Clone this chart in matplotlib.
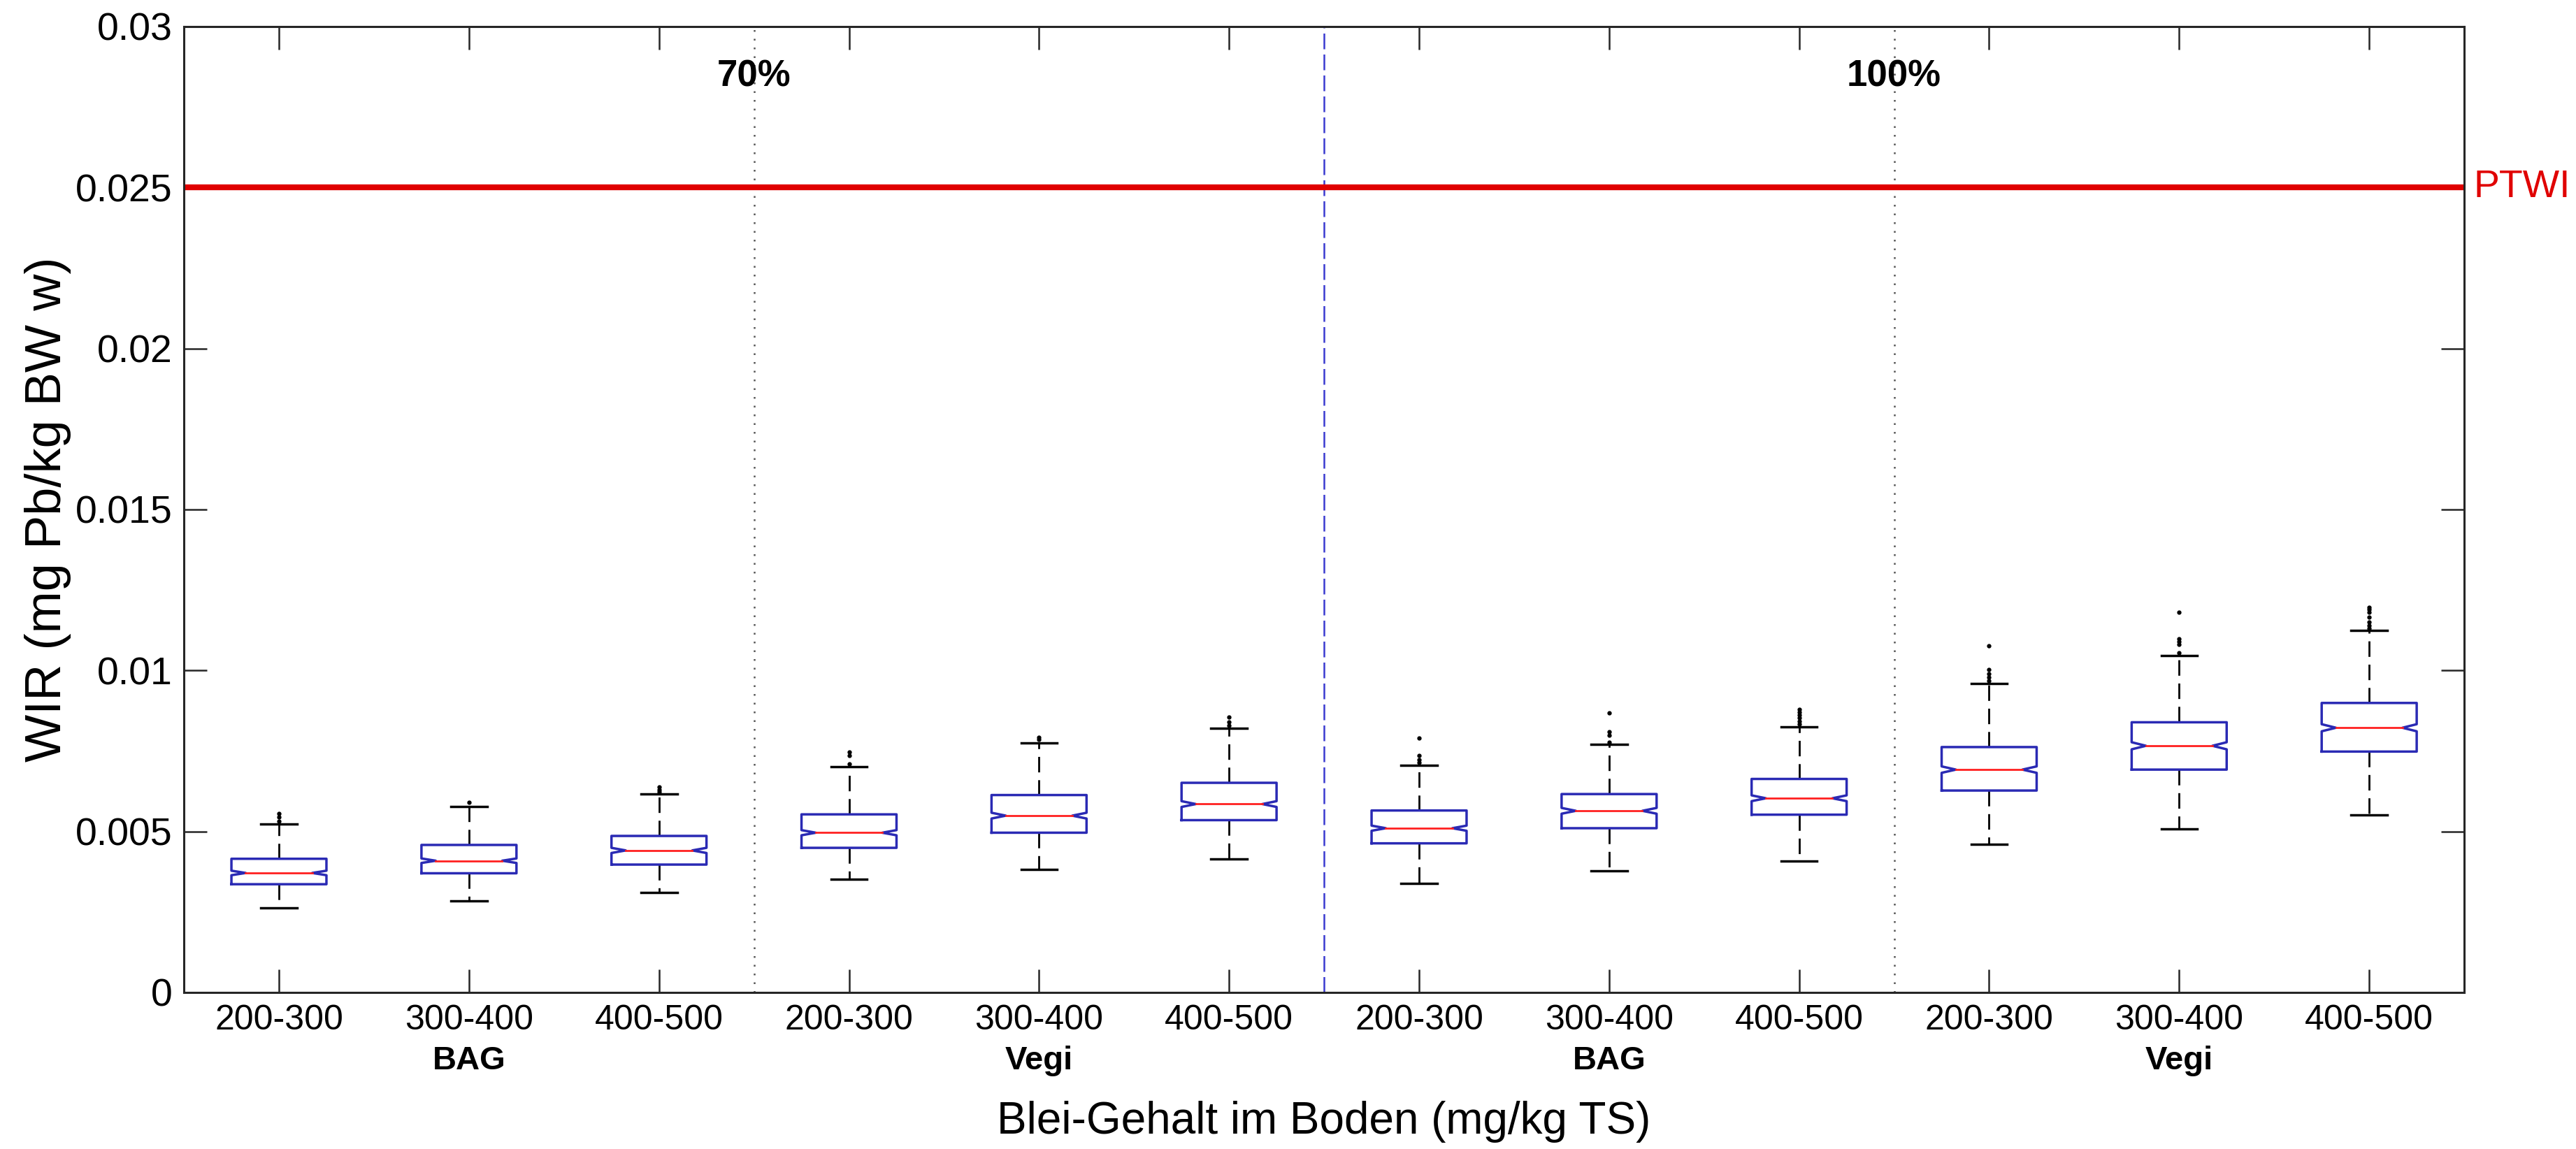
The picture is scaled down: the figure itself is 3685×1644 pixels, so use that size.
"""Notched box plots of weekly Pb intake (WIR) by soil lead class, diet and scenario."""

import matplotlib
matplotlib.use("Agg")
import matplotlib.pyplot as plt
import numpy as np

FONT = ["Liberation Sans", "DejaVu Sans"]

CLASSES = ["200-300", "300-400", "400-500"] * 4
GROUPS = ["BAG", "Vegi", "BAG", "Vegi"]
SCENARIOS = ["70%", "100%"]

WHISLO = [0.00263, 0.00285, 0.00311, 0.00351, 0.00381, 0.00415,
          0.00338, 0.00377, 0.00407, 0.00460, 0.00507, 0.00551]
Q1 = [0.00336, 0.00370, 0.00397, 0.00449, 0.00496, 0.00535,
      0.00463, 0.00510, 0.00552, 0.00627, 0.00692, 0.00748]
MED = [0.00371, 0.00409, 0.00441, 0.00496, 0.00549, 0.00585,
       0.00510, 0.00564, 0.00603, 0.00692, 0.00766, 0.00822]
Q3 = [0.00415, 0.00458, 0.00486, 0.00553, 0.00613, 0.00651,
      0.00565, 0.00616, 0.00663, 0.00762, 0.00839, 0.00899]
WHISHI = [0.00522, 0.00578, 0.00616, 0.00701, 0.00774, 0.00821,
          0.00706, 0.00770, 0.00825, 0.00960, 0.01046, 0.01124]
NOTCH = [0.00007, 0.00007, 0.00008, 0.00008, 0.00009, 0.00009,
         0.00008, 0.00009, 0.00009, 0.00010, 0.00011, 0.00011]
FLIERS = [
    [0.00531, 0.00545, 0.00556],
    [0.00590],
    [0.00622, 0.00630, 0.00638],
    [0.00710, 0.00735, 0.00746],
    [0.00785, 0.00792],
    [0.00830, 0.00840, 0.00855],
    [0.00714, 0.00722, 0.00735, 0.00790],
    [0.00776, 0.00798, 0.00810, 0.00868],
    [0.00834, 0.00843, 0.00852, 0.00862, 0.00870, 0.00879],
    [0.00968, 0.00978, 0.00990, 0.01003, 0.01077],
    [0.01054, 0.01081, 0.01090, 0.01099, 0.01180],
    [0.01130, 0.01140, 0.01150, 0.01165, 0.01180, 0.01190, 0.01195],
]
PTWI = 0.025
YTICKS = [0, 0.005, 0.01, 0.015, 0.02, 0.025, 0.03]
YTICKLABELS = ["0", "0.005", "0.01", "0.015", "0.02", "0.025", "0.03"]

BLUE = "#2a2ab4"
WIDTH = 0.5
NOTCH_DEPTH = 0.075


def main():
    fig = plt.figure(figsize=(36.85, 16.44), dpi=100)
    ax = fig.add_axes([0.0714, 0.1363, 0.8852, 0.8406])

    pos = np.arange(1, len(MED) + 1)
    stats = []
    for i in range(len(MED)):
        stats.append(dict(whislo=WHISLO[i], q1=Q1[i], med=MED[i], q3=Q3[i],
                          whishi=WHISHI[i], fliers=FLIERS[i], label=CLASSES[i]))

    ax.bxp(stats, positions=pos, widths=WIDTH, capwidths=0.19,
           showbox=False, showfliers=True,
           whiskerprops=dict(color="black", linewidth=2, linestyle=(0, (8, 4))),
           capprops=dict(color="black", linewidth=2.5),
           medianprops=dict(linestyle="none"),
           flierprops=dict(marker="o", markersize=3.5, markerfacecolor="black",
                           markeredgecolor="black", linestyle="none"))

    # notched boxes drawn MATLAB-style (shallow notch, median between notch tips)
    for i, x in enumerate(pos):
        left, right = x - WIDTH / 2, x + WIDTH / 2
        lo, hi = MED[i] - NOTCH[i], MED[i] + NOTCH[i]
        xs = [left, right, right, right - NOTCH_DEPTH, right, right,
              left, left, left + NOTCH_DEPTH, left, left]
        ys = [Q1[i], Q1[i], lo, MED[i], hi, Q3[i], Q3[i], hi, MED[i], lo, Q1[i]]
        ax.plot(xs, ys, color=BLUE, linewidth=2.5, zorder=3)
        ax.plot([left + NOTCH_DEPTH, right - NOTCH_DEPTH], [MED[i], MED[i]],
                color="#ff2020", linewidth=2, zorder=4)

    ax.axhline(PTWI, color="#e00000", linewidth=6, zorder=2)
    ax.text(1.004, PTWI, "PTWI", transform=ax.get_yaxis_transform(),
            color="#e00000", fontsize=40, va="center", ha="left", family=FONT)

    for xv in (3.5, 9.5):
        ax.axvline(xv, color="#555555", linewidth=1.8, linestyle=(0, (1, 4)), zorder=1)
    ax.axvline(6.5, color="#3a3ad0", linewidth=1.8, linestyle=(0, (9, 3)), zorder=1)

    for xv, lab in zip((3.5, 9.5), SCENARIOS):
        ax.text(xv, 0.02844, lab, ha="center", va="center", fontsize=38,
                fontweight="bold", family=FONT)

    trans = ax.get_xaxis_transform()
    for xv, lab in zip((2, 5, 8, 11), GROUPS):
        ax.text(xv, -0.071, lab, transform=trans, ha="center", va="center",
                fontsize=34, fontweight="bold", family=FONT)
    ax.text(6.5, -0.134, "Blei-Gehalt im Boden (mg/kg TS)", transform=trans,
            ha="center", va="center", fontsize=46, family=FONT)
    ax.set_ylabel("WIR (mg Pb/kg BW w)", fontsize=52, family=FONT, labelpad=4)

    ax.set_xlim(0.5, 12.5)
    ax.set_ylim(0, 0.03)
    ax.set_xticks(pos)
    ax.set_xticklabels(CLASSES, fontsize=36, family=FONT)
    ax.set_yticks(YTICKS)
    ax.set_yticklabels(YTICKLABELS, fontsize=40, family=FONT)
    ax.tick_params(direction="in", length=24, width=1.8, color="#262626",
                   top=True, right=True, pad=12)
    for spine in ax.spines.values():
        spine.set_color("#262626")
        spine.set_linewidth(2.2)

    fig.savefig("out.png", dpi=100)


if __name__ == "__main__":
    main()
